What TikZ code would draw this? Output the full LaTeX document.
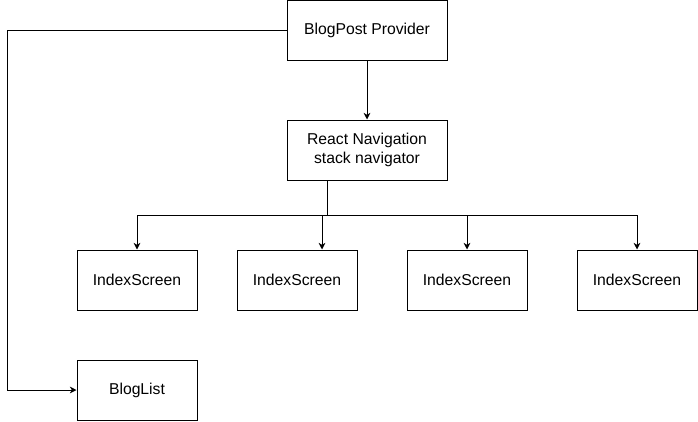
\documentclass[tikz,border=0pt]{standalone}
\usepackage{fontspec}
\setmainfont{Liberation Sans}
\usetikzlibrary{arrows.meta}

\tikzset{every picture/.style={line width=0.75pt}}
\tikzset{
  blockbox/.style={draw, align=center, inner sep=0pt, font=\fontsize{11.8}{14}\selectfont},
  widebox/.style={blockbox, minimum width=120pt, minimum height=45pt},
  screenbox/.style={blockbox, minimum width=90pt, minimum height=45pt},
  flow/.style={-{Stealth[length=5pt,width=5pt,inset=1.5pt]}}
}

\begin{document}
\begin{tikzpicture}[x=0.75pt,y=0.75pt,yscale=-1,xscale=1]
\useasboundingbox (0,0) rectangle (698,421);

% Providers
\node [widebox] (prov) at (367,30.5) {BlogPost Provider};
\node [widebox] (nav) at (367,150) {React Navigation\\stack navigator};

% Screens
\node [screenbox] (scr1) at (137,280) {IndexScreen};
\node [screenbox] (scr2) at (297,280) {IndexScreen};
\node [screenbox] (scr3) at (467,280) {IndexScreen};
\node [screenbox] (scr4) at (637,280) {IndexScreen};
\node [screenbox] (blog) at (137,390) {BlogList};

% Junctions
\coordinate (tee) at (327,215);
\coordinate (lft) at (7,30.5);

% Connectors
\draw [flow] (prov) -- (nav);
\draw (nav.south -| tee) -- (tee);
\draw [flow] (tee) -| (scr1.north);
\draw [flow] (tee) -| ([xshift=18.75pt]scr2.north);
\draw [flow] (tee) -| (scr3.north);
\draw [flow] (tee) -| (scr4.north);
\draw [flow] (prov.west) -- (lft) |- (blog.west);

\end{tikzpicture}
\end{document}
